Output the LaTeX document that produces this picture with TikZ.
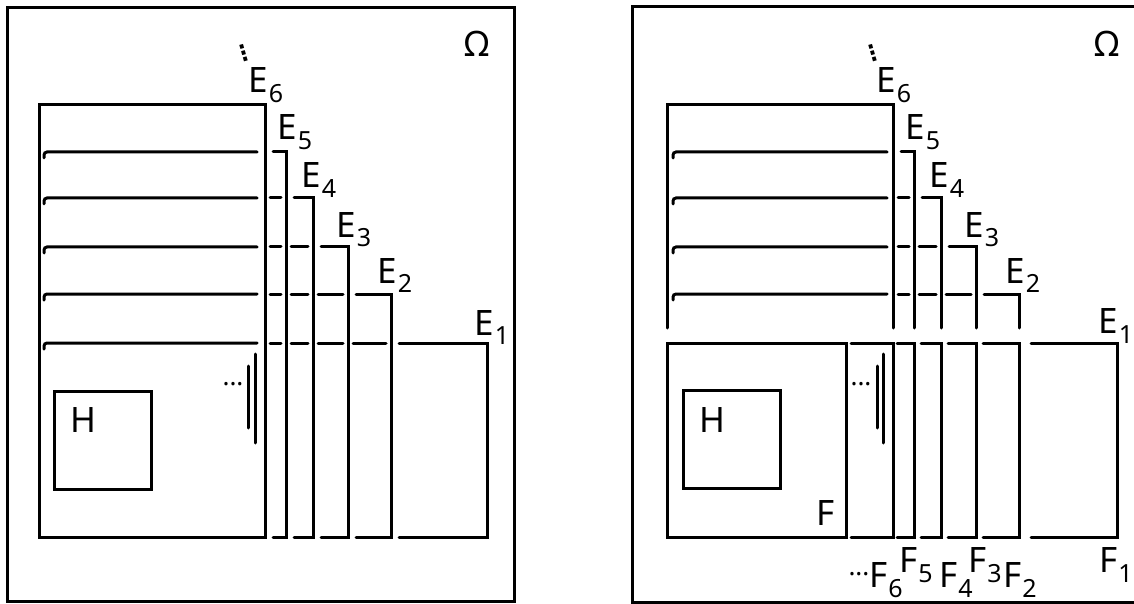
\documentclass[tikz,border=0pt]{standalone}
\usepackage{fontspec}
\setmainfont{Noto Sans}
\newfontfamily\symfont{DejaVu Sans}

\newcommand{\idx}[1]{\kern0.4pt\raisebox{-5pt}{\fontsize{12.5}{14}\selectfont #1}}

\begin{document}
\begin{tikzpicture}[x=0.5pt, y=-0.5pt, line width=1.5pt, line cap=round,
	lbl/.style={inner sep=0pt, anchor=base west, font=\fontsize{17.5}{20}\selectfont},
	mid/.style={inner sep=0pt, font=\fontsize{17.5}{20}\selectfont},
	dots/.style={inner sep=0pt, font=\fontsize{13}{14}\selectfont\bfseries},
	vdot/.style={inner sep=0pt, rotate=16, font=\fontsize{11}{12}\symfont\bfseries}]
	\useasboundingbox (0,0) rectangle (1134,604);

	% left: the sets E_n
	\draw (7,8) rectangle (514,601);
	\node[mid] (omL) at (477,44) {Ω};
	\draw (39,105) rectangle (265,537);
	\foreach \y in {152,198,247,294,343}
		\draw[rounded corners=1.5pt] (44,{\y+6}) |- (257,\y);
	\foreach \p/\v/\y in {265/286/152, 286/313/198, 313/348/247, 348/391/294, 391/487/343}
		\draw ({\p+8},\y) -| (\v,537) -- ({\p+8},537);
	\foreach \y in {198,247,294,343} \draw (270,\y) -- (281,\y);
	\foreach \y in {247,294,343} \draw (291,\y) -- (308,\y);
	\foreach \y in {294,343} \draw (318,\y) -- (343,\y);
	\draw (353,343) -- (386,343);
	\draw (54,391) rectangle (151,489);
	\node[mid] (hL) at (83,420) {H};
	\node[dots] (ddL) at (233,384) {...};
	\draw (248,366) -- (248,428);
	\draw (255,354) -- (255,443);
	\node[vdot] (vdL) at (244,53) {⋮};
	\node[lbl] (e6L) at (247,93) {E\idx{6}};
	\node[lbl] (e5L) at (276,140) {E\idx{5}};
	\node[lbl] (e4L) at (300,188) {E\idx{4}};
	\node[lbl] (e3L) at (335,237) {E\idx{3}};
	\node[lbl] (e2L) at (376,283) {E\idx{2}};
	\node[lbl] (e1L) at (473,335) {E\idx{1}};

	% right: the same sets cut by F
	\begin{scope}[xshift=314pt]
	\draw (506,7) -- (4,7) -- (4,602) -- (506,602);
	\node[mid] (omR) at (479,44) {Ω};
	\draw (39,328) |- (265,105) -- (265,328);
	\foreach \y in {152,198,247,294}
		\draw[rounded corners=1.5pt] (45,{\y+6}) |- (259,\y);
	\foreach \p/\v/\y in {265/286/152, 286/313/198, 313/348/247, 348/391/294}
		\draw ({\p+8},\y) -| (\v,328);
	\foreach \y in {198,247,294} \draw (270,\y) -- (281,\y);
	\foreach \y in {247,294} \draw (291,\y) -- (308,\y);
	\draw (318,294) -- (343,294);
	\draw (39,343) rectangle (218,537);
	\foreach \p/\v in {223/265, 269/286, 293/313, 320/348, 355/391, 403/489}
		\draw (\p,343) -| (\v,537) -- (\p,537);
	\draw (55,390) rectangle (152,488);
	\node[mid] (hR) at (84,420) {H};
	\node[mid] (fR) at (198,513) {F};
	\node[dots] (ddR) at (233,384) {...};
	\draw (249,366) -- (249,428);
	\draw (255,354) -- (255,443);
	\node[vdot] (vdR) at (245,53) {⋮};
	\node[lbl] (e6R) at (247,93) {E\idx{6}};
	\node[lbl] (e5R) at (276,140) {E\idx{5}};
	\node[lbl] (e4R) at (300,188) {E\idx{4}};
	\node[lbl] (e3R) at (335,237) {E\idx{3}};
	\node[lbl] (e2R) at (376,283) {E\idx{2}};
	\node[lbl] (e1R) at (469,333) {E\idx{1}};
	\node[lbl] (f6R) at (219,587) {\raisebox{6pt}{\fontsize{13}{14}\selectfont\bfseries ...}F\idx{6}};
	\node[lbl] (f5R) at (270,572) {F\idx{5}};
	\node[lbl] (f4R) at (310,587) {F\idx{4}};
	\node[lbl] (f3R) at (339,572) {F\idx{3}};
	\node[lbl] (f2R) at (374,587) {F\idx{2}};
	\node[lbl] (f1R) at (470,572) {F\idx{1}};
	\end{scope}
\end{tikzpicture}
\end{document}
